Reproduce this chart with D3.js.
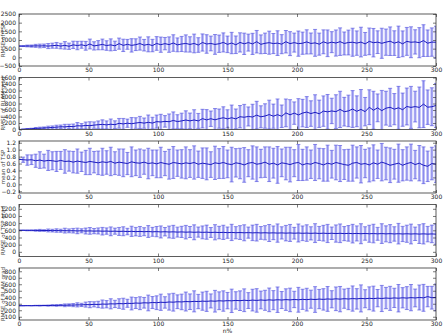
<!DOCTYPE html>
<html>
<head>
<meta charset="utf-8">
<script src="https://cdn.jsdelivr.net/npm/d3@7"></script>
<style>
  body { margin: 0; background: #fff; }
  svg { display: block; }
  text { font-family: "DejaVu Sans", sans-serif; }
</style>
</head>
<body>
<svg id="chart" width="443" height="333"></svg>
<script>
// sample positions (every 3rd step of n)
var steps = d3.range(0, 301, 3)

// panel 1
var mean1 = [650,648,655,650,662,655,665,650,672,690,
  650,690,640,720,680,725,665,770,660,700,
  745,680,720,665,790,690,750,690,730,795,
  700,750,680,800,730,790,735,825,720,770,
  800,745,800,710,855,770,800,745,785,860,
  750,825,725,860,780,850,775,900,750,810,
  845,795,820,760,900,790,850,790,815,890,
  800,835,760,895,810,875,825,905,800,855,
  870,820,880,775,920,845,875,810,875,930,
  820,895,780,920,870,890,845,965,815,880,
  870]
var err1 = [0,24,52,62,87,108,102,146,146,168,
  158,217,181,210,242,202,254,283,239,265,
  308,276,345,268,321,356,285,386,340,378,
  333,433,358,395,440,357,445,477,400,436,
  495,442,540,422,495,535,425,571,500,551,
  477,616,507,555,616,490,610,649,543,588,
  666,580,713,550,648,691,548,728,640,698,
  603,775,637,690,770,606,753,794,662,715,
  809,703,857,660,770,821,655,868,757,824,
  711,906,744,805,891,701,869,916,764,818,
  924]

// panel 2
var mean2 = [0,8,17,22,35,38,48,52,63,72,
  84,80,94,88,116,108,124,118,135,148,
  157,143,162,149,190,172,194,177,199,216,
  196,221,198,243,231,250,239,278,244,264,
  292,265,293,264,334,296,332,298,335,362,
  327,362,326,393,377,401,384,442,390,415,
  459,410,456,408,511,452,504,448,505,537,
  490,528,484,566,544,571,549,618,548,572,
  630,560,618,549,685,593,666,580,656,683,
  626,667,610,708,680,705,680,780,687,700,
  740]
var err2 = [0,6,14,17,27,35,31,51,48,60,
  54,80,67,80,97,75,106,120,99,115,
  140,122,161,118,150,168,127,190,163,187,
  158,225,178,202,237,177,239,263,211,238,
  283,241,315,230,287,316,237,347,296,337,
  280,390,305,344,396,293,392,425,339,376,
  443,372,483,346,427,466,345,502,423,475,
  393,541,420,468,533,391,520,558,441,485,
  567,475,612,437,536,583,428,622,521,584,
  480,660,511,568,646,473,627,720,530,583,
  678]

// panel 3
var mean3 = [0.72,0.71,0.70,0.71,0.68,0.70,0.67,0.69,0.68,0.66,
  0.69,0.66,0.67,0.64,0.67,0.65,0.63,0.66,0.64,0.62,
  0.65,0.63,0.66,0.61,0.64,0.62,0.60,0.65,0.62,0.61,
  0.64,0.60,0.62,0.59,0.63,0.60,0.58,0.63,0.61,0.59,
  0.62,0.60,0.63,0.58,0.61,0.59,0.57,0.62,0.60,0.63,
  0.59,0.57,0.62,0.60,0.56,0.61,0.63,0.58,0.60,0.64,
  0.58,0.61,0.56,0.62,0.60,0.57,0.61,0.63,0.56,0.60,
  0.58,0.63,0.60,0.56,0.61,0.58,0.63,0.60,0.57,0.55,
  0.61,0.63,0.58,0.60,0.56,0.62,0.58,0.64,0.60,0.55,
  0.58,0.61,0.55,0.60,0.63,0.57,0.61,0.55,0.52,0.60,
  0.58]
var err3 = [0,0.076,0.15,0.14,0.19,0.24,0.20,0.29,0.26,0.29,
  0.26,0.34,0.29,0.31,0.35,0.28,0.35,0.38,0.31,0.34,
  0.39,0.34,0.41,0.33,0.38,0.40,0.32,0.43,0.37,0.41,
  0.35,0.44,0.37,0.40,0.44,0.35,0.43,0.46,0.38,0.41,
  0.46,0.40,0.48,0.38,0.44,0.46,0.37,0.48,0.43,0.46,
  0.40,0.50,0.41,0.44,0.50,0.39,0.48,0.50,0.41,0.44,
  0.50,0.43,0.53,0.40,0.47,0.50,0.39,0.52,0.45,0.48,
  0.41,0.52,0.44,0.47,0.52,0.40,0.50,0.52,0.43,0.46,
  0.52,0.45,0.54,0.41,0.49,0.52,0.41,0.54,0.47,0.50,
  0.43,0.55,0.45,0.48,0.53,0.41,0.51,0.53,0.44,0.47,
  0.53]

// panel 4
var mean4 = [600,601,598,599,596,598,594,596,591,594,
  589,591,586,589,583,587,580,584,578,582,
  575,579,572,577,569,574,566,572,563,569,
  561,567,558,564,555,561,553,558,550,556,
  548,553,545,551,543,548,540,546,538,543,
  535,541,533,538,531,536,529,534,527,532,
  525,530,523,528,521,527,519,525,517,523,
  515,522,513,520,512,518,510,517,508,515,
  507,513,505,512,504,510,502,509,501,507,
  499,506,498,504,497,503,495,502,494,500,
  493]
var err4 = [0,5,12,12,21,28,23,41,38,48,
  43,67,54,64,78,57,83,93,74,85,
  106,89,123,85,111,125,90,142,118,138,
  112,165,125,143,168,118,166,181,139,156,
  189,154,208,141,179,197,138,212,174,198,
  158,227,170,192,223,155,216,233,178,198,
  237,191,255,171,216,237,164,251,204,231,
  184,263,195,219,253,174,240,260,197,218,
  260,210,279,188,237,259,180,275,223,252,
  201,287,212,239,276,187,262,283,215,245,
  283]

// panel 5
var mean5 = [270,270,271,270,272,271,273,272,275,274,
  277,276,280,279,283,282,287,286,291,289,
  295,293,299,297,303,300,307,304,311,308,
  315,312,319,316,323,320,327,324,331,328,
  334,331,337,334,340,337,343,339,346,342,
  348,345,351,347,354,349,356,351,358,353,
  360,355,362,357,364,359,366,361,368,363,
  370,365,372,367,374,369,376,371,378,373,
  380,375,382,377,384,379,386,381,388,383,
  390,385,392,387,394,389,396,391,410,393,
  398]
var err5 = [0,1,2,2,4,6,5,9,10,13,
  12,21,18,24,32,25,39,47,40,49,
  63,56,78,56,74,85,62,99,84,99,
  82,121,92,106,125,88,125,137,106,120,
  146,120,162,110,140,155,108,167,137,157,
  126,180,134,151,175,122,167,181,137,154,
  182,147,196,131,166,181,126,191,155,175,
  139,198,148,165,191,132,182,195,148,164,
  194,157,208,139,176,192,133,201,164,185,
  148,211,156,176,202,137,192,207,157,175,
  206]

var xTicks = [0, 50, 100, 150, 200, 250, 300]
var yLabels = ["RMSE of TSP", "RMSE of RLAM grad", "mean of TSP", "RMSE of TSP grad", "RMSE of RLAM grad"]
var yDomains = [[-500, 2500], [0, 1600], [-0.25, 1.25], [-130, 1320], [50, 850]]
var yTicks = [
  [-500, 0, 500, 1000, 1500, 2000, 2500],
  [0, 200, 400, 600, 800, 1000, 1200, 1400, 1600],
  [-0.2, 0.0, 0.2, 0.4, 0.6, 0.8, 1.0, 1.2],
  [0, 200, 400, 600, 800, 1000, 1200],
  [100, 200, 300, 400, 500, 600, 700, 800]
]
var means = [mean1, mean2, mean3, mean4, mean5]
var errs = [err1, err2, err3, err4, err5]

const svg = d3.select("#chart")
const left = 19, right = 436
const top0 = 14, pitch = 63.5, ph = 52
const barColor = "#7878f0"

const x = d3.scaleLinear().domain([0, 300]).range([left, right])

means.forEach((mean, k) => {
  const top = top0 + k * pitch
  const bottom = top + ph
  const y = d3.scaleLinear().domain(yDomains[k]).range([bottom, top])
  const g = svg.append("g")
  const fmt = k == 2 ? d3.format(".1f") : d3.format("d")

  g.append("clipPath").attr("id", "clip" + k)
    .append("rect").attr("x", left).attr("y", top)
    .attr("width", right - left).attr("height", ph)

  const rows = steps.map((s, i) => ({ n: s, m: mean[i], e: errs[k][i] }))
  const plot = g.append("g").attr("clip-path", "url(#clip" + k + ")")

  // error bars: a wide light stroke plus a thin darker core
  plot.selectAll("line.bar").data(rows).enter().append("line")
    .attr("class", "bar")
    .attr("x1", d => x(d.n)).attr("x2", d => x(d.n))
    .attr("y1", d => y(d.m - d.e)).attr("y2", d => y(d.m + d.e))
    .attr("stroke", barColor).attr("stroke-opacity", 0.55).attr("stroke-width", 2.8)
  plot.selectAll("line.core").data(rows).enter().append("line")
    .attr("class", "core")
    .attr("x1", d => x(d.n)).attr("x2", d => x(d.n))
    .attr("y1", d => y(d.m - d.e)).attr("y2", d => y(d.m + d.e))
    .attr("stroke", "#3030d0").attr("stroke-opacity", 0.5).attr("stroke-width", 0.6)
  const caps = rows.flatMap(d => [{ n: d.n, v: d.m - d.e }, { n: d.n, v: d.m + d.e }])
  plot.selectAll("line.cap").data(caps).enter().append("line")
    .attr("class", "cap")
    .attr("x1", d => x(d.n) - 2).attr("x2", d => x(d.n) + 2)
    .attr("y1", d => y(d.v)).attr("y2", d => y(d.v))
    .attr("stroke", "#5050e0").attr("stroke-opacity", 0.8).attr("stroke-width", 0.8)

  // mean line
  plot.append("path").datum(rows)
    .attr("fill", "none").attr("stroke", "#1a1ac0").attr("stroke-width", 1)
    .attr("d", d3.line().x(d => x(d.n)).y(d => y(d.m)))

  // axes, ticks pointing inward
  g.append("g").attr("transform", `translate(0,${bottom})`)
    .call(d3.axisBottom(x).tickValues(xTicks).tickSizeInner(-3).tickSizeOuter(0).tickPadding(2))
  g.append("g").attr("transform", `translate(0,${top})`)
    .call(d3.axisTop(x).tickValues(xTicks).tickSizeInner(-3).tickSizeOuter(0).tickFormat(""))
  g.append("g").attr("transform", `translate(${left},0)`)
    .call(d3.axisLeft(y).tickValues(yTicks[k]).tickSizeInner(-3).tickSizeOuter(0).tickPadding(3).tickFormat(fmt))
  g.append("g").attr("transform", `translate(${right},0)`)
    .call(d3.axisRight(y).tickValues(yTicks[k]).tickSizeInner(-3).tickSizeOuter(0).tickFormat(""))

  g.selectAll(".domain").remove()
  g.selectAll(".tick line").attr("stroke", "#222").attr("stroke-width", 0.6)
  g.selectAll(".tick text").attr("font-size", 6).attr("fill", "#222")
    .style("font-family", "DejaVu Sans, sans-serif")

  g.append("rect").attr("x", left).attr("y", top)
    .attr("width", right - left).attr("height", ph)
    .attr("fill", "none").attr("stroke", "#333").attr("stroke-width", 0.8)

  g.append("text")
    .attr("transform", `translate(3,${top + ph / 2}) rotate(-90)`)
    .attr("text-anchor", "middle").attr("dominant-baseline", "middle")
    .attr("font-size", 5.5).attr("fill", "#444")
    .text(yLabels[k])
})

svg.append("text").attr("x", (left + right) / 2).attr("y", 332.5)
  .attr("text-anchor", "middle").attr("font-size", 6).attr("fill", "#222")
  .text("n%")
</script>
</body>
</html>
